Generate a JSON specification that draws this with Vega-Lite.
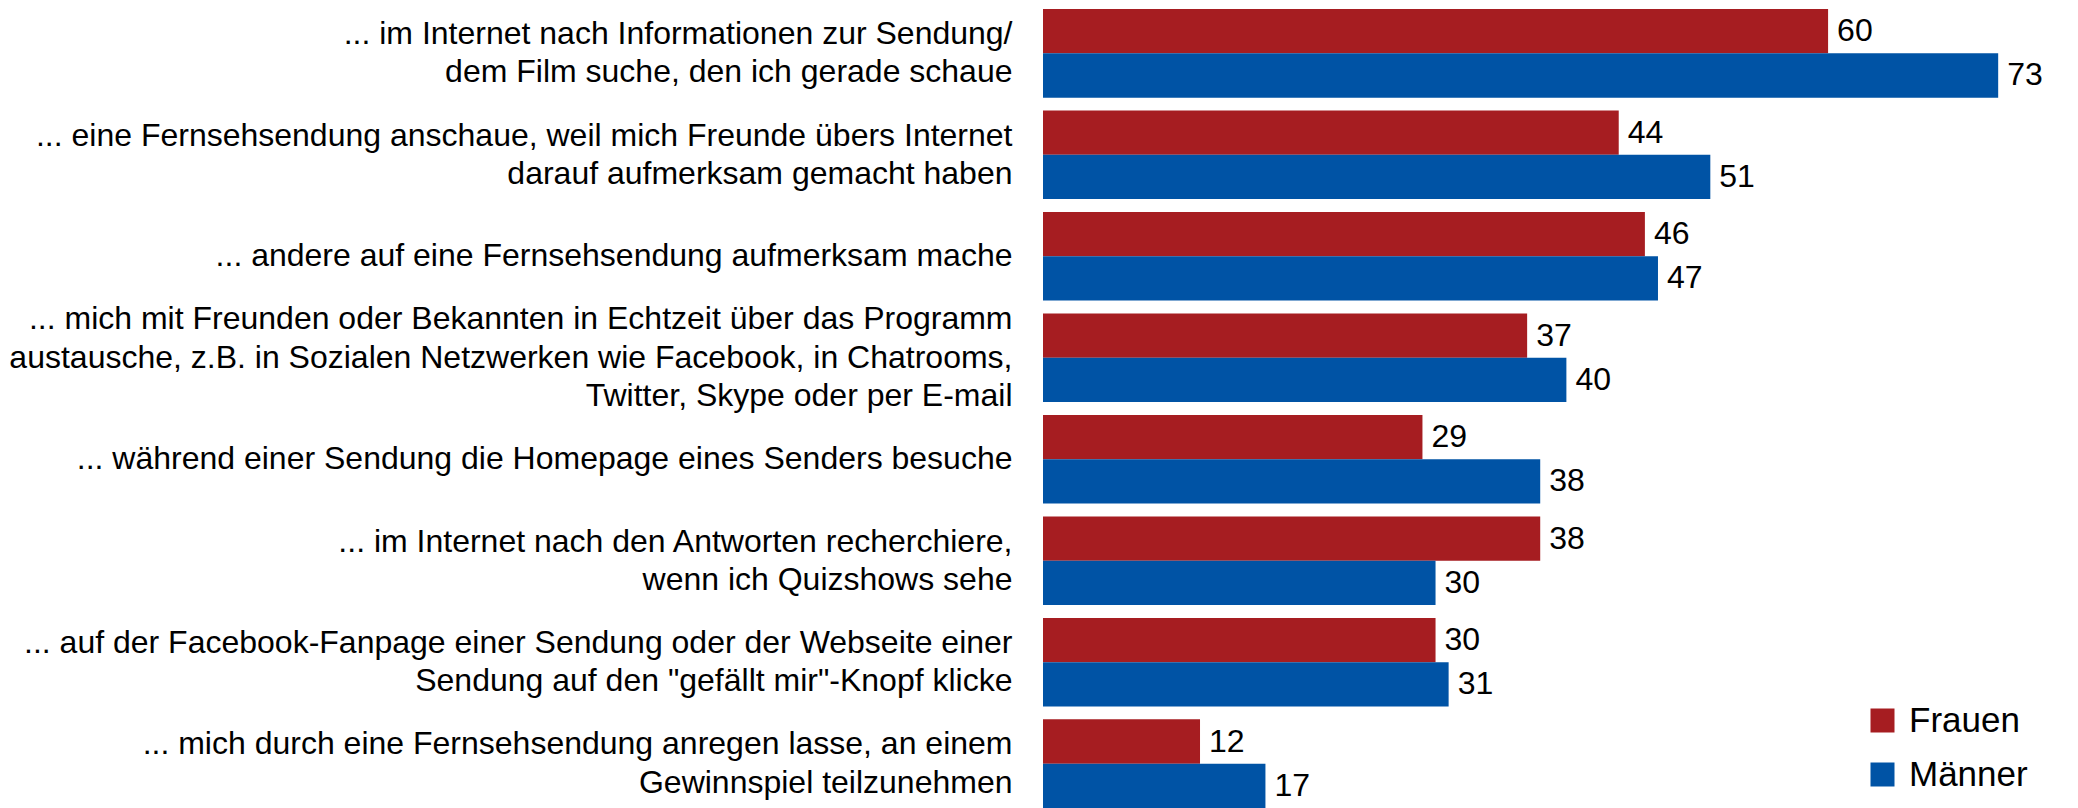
{
  "$schema": "https://vega.github.io/schema/vega-lite/v6.json",
  "autosize": {"type": "none"},
  "padding": {"left": 1043, "top": 9, "right": 0, "bottom": 0},
  "width": 1035,
  "height": 799,
  "background": "white",
  "config": {
    "view": {"stroke": null},
    "font": "Liberation Sans"
  },
  "data": {
    "values": [
      {"k": 1, "label": "... im Internet nach Informationen zur Sendung/|dem Film suche, den ich gerade schaue", "gender": "Frauen", "value": 60},
      {"k": 1, "label": "... im Internet nach Informationen zur Sendung/|dem Film suche, den ich gerade schaue", "gender": "Männer", "value": 73},
      {"k": 2, "label": "... eine Fernsehsendung anschaue, weil mich Freunde übers Internet|darauf aufmerksam gemacht haben", "gender": "Frauen", "value": 44},
      {"k": 2, "label": "... eine Fernsehsendung anschaue, weil mich Freunde übers Internet|darauf aufmerksam gemacht haben", "gender": "Männer", "value": 51},
      {"k": 3, "label": "... andere auf eine Fernsehsendung aufmerksam mache", "gender": "Frauen", "value": 46},
      {"k": 3, "label": "... andere auf eine Fernsehsendung aufmerksam mache", "gender": "Männer", "value": 47},
      {"k": 4, "label": "... mich mit Freunden oder Bekannten in Echtzeit über das Programm|austausche, z.B. in Sozialen Netzwerken wie Facebook, in Chatrooms,|Twitter, Skype oder per E-mail", "gender": "Frauen", "value": 37},
      {"k": 4, "label": "... mich mit Freunden oder Bekannten in Echtzeit über das Programm|austausche, z.B. in Sozialen Netzwerken wie Facebook, in Chatrooms,|Twitter, Skype oder per E-mail", "gender": "Männer", "value": 40},
      {"k": 5, "label": "... während einer Sendung die Homepage eines Senders besuche", "gender": "Frauen", "value": 29},
      {"k": 5, "label": "... während einer Sendung die Homepage eines Senders besuche", "gender": "Männer", "value": 38},
      {"k": 6, "label": "... im Internet nach den Antworten recherchiere,|wenn ich Quizshows sehe", "gender": "Frauen", "value": 38},
      {"k": 6, "label": "... im Internet nach den Antworten recherchiere,|wenn ich Quizshows sehe", "gender": "Männer", "value": 30},
      {"k": 7, "label": "... auf der Facebook-Fanpage einer Sendung oder der Webseite einer|Sendung auf den \"gefällt mir\"-Knopf klicke", "gender": "Frauen", "value": 30},
      {"k": 7, "label": "... auf der Facebook-Fanpage einer Sendung oder der Webseite einer|Sendung auf den \"gefällt mir\"-Knopf klicke", "gender": "Männer", "value": 31},
      {"k": 8, "label": "... mich durch eine Fernsehsendung anregen lasse, an einem|Gewinnspiel teilzunehmen", "gender": "Frauen", "value": 12},
      {"k": 8, "label": "... mich durch eine Fernsehsendung anregen lasse, an einem|Gewinnspiel teilzunehmen", "gender": "Männer", "value": 17}
    ]
  },
  "encoding": {
    "y": {
      "field": "label",
      "type": "nominal",
      "sort": {"field": "k", "op": "min", "order": "ascending"},
      "scale": {"paddingInner": 0.1266, "paddingOuter": 0},
      "axis": {
        "title": null,
        "domain": false,
        "ticks": false,
        "tickSize": 0,
        "labelPadding": 31,
        "labelFontSize": 32,
        "labelFont": "Liberation Sans",
        "labelColor": "#000000",
        "labelLineHeight": 38.3,
        "labelLimit": 2000,
        "labelOffset": {
          "condition": [
            {"test": "length(split(datum.value, '|')) == 3", "value": -38.3},
            {"test": "length(split(datum.value, '|')) == 2", "value": -19.2}
          ],
          "value": 0
        },
        "labelExpr": "split(datum.value, '|')"
      }
    },
    "yOffset": {
      "field": "gender",
      "type": "nominal",
      "scale": {"domain": ["Frauen", "Männer"], "paddingInner": 0, "paddingOuter": 0}
    },
    "x": {
      "field": "value",
      "type": "quantitative",
      "scale": {"domain": [0, 79.1], "nice": false, "zero": true},
      "axis": null
    }
  },
  "layer": [
    {
      "mark": {"type": "bar"},
      "encoding": {
        "color": {
          "field": "gender",
          "type": "nominal",
          "scale": {"domain": ["Frauen", "Männer"], "range": ["#A61D21", "#0053A5"]},
          "legend": {
            "title": null,
            "orient": "none",
            "legendX": 822,
            "legendY": 694,
            "padding": 0,
            "symbolType": "square",
            "symbolSize": 576,
            "symbolStrokeWidth": 0,
            "labelFontSize": 35,
            "labelFont": "Liberation Sans",
            "labelColor": "#000000",
            "labelOffset": 9,
            "rowPadding": 18,
            "labelLimit": 400
          }
        }
      }
    },
    {
      "mark": {"type": "text", "align": "left", "baseline": "middle", "dx": 9, "fontSize": 32, "font": "Liberation Sans", "color": "#000000"},
      "encoding": {
        "text": {"field": "value", "type": "quantitative"}
      }
    }
  ]
}
